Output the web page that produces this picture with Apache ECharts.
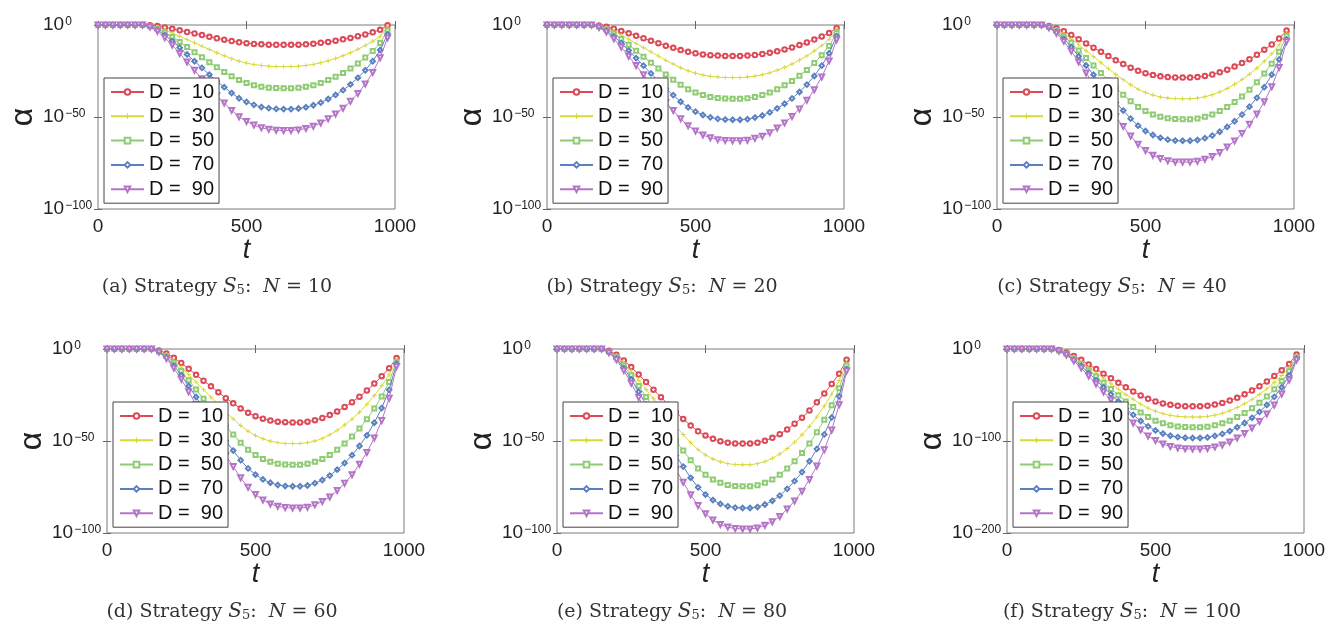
<!DOCTYPE html>
<html><head><meta charset="utf-8">
<script src="https://cdn.jsdelivr.net/npm/echarts@6/dist/echarts.min.js"></script>
<style>html,body{margin:0;padding:0;background:#fff}#c{width:1339px;height:622px}</style>
</head><body><div id="c"></div>
<script>
// x positions (t)
const tVals = [0,25,50,75,100,125,150,175,200,225,250,275,300,325,350,375,400,425,450,475,500,525,550,575,600,625,650,675,700,725,750,775,800,825,850,875,900,925,950,975];
const dLabels = ['D =  10','D =  30','D =  50','D =  70','D =  90'];
const panelLetters = ['a','b','c','d','e','f'];
const panelN = [10,20,40,60,80,100];
const xTicks = [0,500,1000];
// y tick exponents (axis shows log10 of alpha)
const yTicksSmall = [0,-50,-100];
const yTicksLarge = [0,-100,-200];

// log10(alpha) — panel (a) N = 10
const pa10 = [0,0,0,0,0,0,0,-0.2,-0.6,-1.3,-2.1,-2.9,-3.8,-4.6,-5.5,-6.4,-7.2,-8.0,-8.7,-9.4,-9.9,-10.3,-10.5,-10.7,-10.8,-10.8,-10.8,-10.7,-10.5,-10.2,-9.7,-9.2,-8.5,-7.8,-7.0,-6.1,-5.1,-4.0,-2.6,-0.2];
const pa30 = [0,0,0,0,0,0,0,-0.5,-1.4,-2.7,-4.3,-6.1,-7.9,-9.7,-11.5,-13.3,-15.1,-16.7,-18.3,-19.7,-20.7,-21.5,-22.0,-22.4,-22.6,-22.6,-22.6,-22.4,-22.0,-21.4,-20.5,-19.4,-18.2,-16.7,-15.1,-13.2,-11.1,-8.8,-6.2,-1.0];
const pa50 = [0,0,0,0,0,0,0,-0.7,-2.1,-4.1,-6.5,-9.3,-12.0,-14.8,-17.5,-20.3,-23.0,-25.5,-27.9,-29.9,-31.5,-32.7,-33.5,-34.1,-34.3,-34.4,-34.4,-34.1,-33.5,-32.7,-31.5,-29.9,-28.1,-26.1,-23.7,-20.9,-17.7,-14.1,-9.8,-3.0];
const pa70 = [0,0,0,0,0,0,0,-0.9,-2.7,-5.5,-8.7,-12.3,-16.0,-19.7,-23.3,-27.0,-30.6,-33.8,-37.0,-39.8,-41.8,-43.4,-44.6,-45.2,-45.6,-45.7,-45.7,-45.4,-44.7,-43.6,-42.2,-40.2,-38.0,-35.4,-32.3,-28.7,-24.6,-19.7,-13.6,-5.0];
const pa90 = [0,0,0,0,0,0,0,-1.1,-3.4,-6.9,-10.9,-15.5,-20.1,-24.6,-29.2,-33.8,-38.4,-42.4,-46.4,-49.9,-52.4,-54.4,-55.9,-56.7,-57.2,-57.3,-57.3,-57.0,-56.2,-55.0,-53.3,-51.0,-48.4,-45.3,-41.5,-37.2,-32.1,-25.8,-17.8,-7.0];
// panel (b) N = 20
const pb10 = [0,0,0,0,0,0,0,-0.3,-1.0,-2.0,-3.2,-4.5,-5.9,-7.2,-8.6,-9.9,-11.3,-12.4,-13.6,-14.6,-15.4,-16.0,-16.4,-16.6,-16.8,-16.8,-16.8,-16.6,-16.3,-15.8,-15.1,-14.3,-13.3,-12.2,-10.9,-9.5,-7.9,-6.2,-4.4,-1.6];
const pb30 = [0,0,0,0,0,0,0,-0.6,-1.7,-3.4,-5.4,-7.7,-10.0,-12.3,-14.6,-16.9,-19.2,-21.2,-23.2,-24.9,-26.2,-27.2,-27.9,-28.3,-28.5,-28.6,-28.6,-28.3,-27.8,-27.0,-26.0,-24.6,-23.0,-21.2,-19.1,-16.8,-14.1,-11.2,-7.8,-2.5];
const pb50 = [0,0,0,0,0,0,0,-0.8,-2.4,-4.8,-7.6,-10.8,-14.0,-17.2,-20.5,-23.7,-26.9,-29.7,-32.5,-34.9,-36.7,-38.1,-39.1,-39.7,-40.0,-40.1,-40.1,-39.8,-39.1,-38.1,-36.7,-34.9,-32.8,-30.4,-27.6,-24.4,-20.7,-16.4,-11.4,-4.3];
const pb70 = [0,0,0,0,0,0,0,-1.0,-3.1,-6.2,-9.8,-13.9,-18.0,-22.1,-26.3,-30.4,-34.5,-38.1,-41.7,-44.8,-47.1,-48.9,-50.2,-51.0,-51.4,-51.5,-51.5,-51.2,-50.3,-49.2,-47.5,-45.3,-42.8,-39.9,-36.4,-32.4,-27.7,-22.1,-15.3,-6.0];
const pb90 = [0,0,0,0,0,0,0,-1.3,-3.8,-7.5,-12.0,-17.0,-22.0,-27.0,-32.1,-37.1,-42.1,-46.5,-50.9,-54.7,-57.6,-59.8,-61.3,-62.3,-62.8,-62.9,-62.9,-62.6,-61.6,-60.4,-58.5,-56.0,-53.2,-49.7,-45.6,-40.9,-35.2,-28.3,-19.5,-8.0];
// panel (c) N = 40
const pc10 = [0,0,0,0,0,0,0,-0.6,-1.7,-3.4,-5.4,-7.7,-10.0,-12.3,-14.6,-16.9,-19.2,-21.2,-23.2,-24.9,-26.2,-27.2,-27.9,-28.3,-28.5,-28.6,-28.6,-28.3,-27.7,-26.9,-25.7,-24.3,-22.6,-20.7,-18.6,-16.2,-13.4,-10.6,-7.4,-3.0];
const pc30 = [0,0,0,0,0,0,0,-0.8,-2.4,-4.8,-7.6,-10.8,-14.0,-17.2,-20.5,-23.7,-26.9,-29.7,-32.5,-34.9,-36.7,-38.1,-39.1,-39.7,-40.0,-40.1,-40.1,-39.7,-39.0,-37.9,-36.4,-34.5,-32.2,-29.7,-26.8,-23.5,-19.7,-15.6,-10.9,-4.5];
const pc50 = [0,0,0,0,0,0,0,-1.0,-3.1,-6.1,-9.7,-13.8,-17.9,-22.0,-26.1,-30.2,-34.3,-37.9,-41.5,-44.5,-46.8,-48.6,-49.9,-50.7,-51.1,-51.2,-51.2,-50.8,-49.9,-48.6,-46.8,-44.5,-41.9,-38.8,-35.2,-31.1,-26.4,-21.0,-14.6,-6.0];
const pc70 = [0,0,0,0,0,0,0,-1.3,-3.8,-7.5,-12.0,-17.0,-22.0,-27.0,-32.1,-37.1,-42.1,-46.5,-50.9,-54.7,-57.6,-59.8,-61.3,-62.3,-62.8,-62.9,-62.9,-62.5,-61.5,-60.1,-58.0,-55.4,-52.3,-48.7,-44.4,-39.6,-33.8,-27.0,-18.7,-7.8];
const pc90 = [0,0,0,0,0,0,0,-1.5,-4.5,-8.9,-14.2,-20.1,-26.1,-32.0,-38.0,-44.0,-49.9,-55.1,-60.3,-64.8,-68.2,-70.8,-72.6,-73.8,-74.4,-74.5,-74.5,-74.1,-73.0,-71.5,-69.3,-66.3,-63.0,-58.9,-54.0,-48.4,-41.7,-33.5,-23.1,-9.0];
// panel (d) N = 60
const pd10 = [0,0,0,0,0,0,0,-0.8,-2.4,-4.8,-7.6,-10.8,-14.0,-17.2,-20.3,-23.5,-26.7,-29.5,-32.3,-34.7,-36.5,-37.9,-38.9,-39.5,-39.8,-39.9,-39.9,-39.5,-38.7,-37.5,-35.9,-33.9,-31.5,-28.9,-25.9,-22.5,-18.8,-14.8,-10.4,-4.9];
const pd30 = [0,0,0,0,0,0,0,-1.0,-3.1,-6.2,-9.8,-13.9,-18.0,-22.1,-26.2,-30.3,-34.4,-38.0,-41.6,-44.7,-47.0,-48.8,-50.1,-50.9,-51.3,-51.4,-51.4,-50.9,-50.0,-48.6,-46.6,-44.2,-41.3,-38.1,-34.4,-30.1,-25.3,-20.0,-14.0,-6.0];
const pd50 = [0,0,0,0,0,0,0,-1.3,-3.8,-7.5,-12.0,-17.0,-22.0,-27.0,-32.1,-37.1,-42.1,-46.5,-50.9,-54.7,-57.6,-59.8,-61.3,-62.3,-62.8,-62.9,-62.9,-62.4,-61.3,-59.8,-57.6,-54.7,-51.4,-47.6,-43.2,-38.2,-32.4,-25.8,-17.9,-7.0];
const pd70 = [0,0,0,0,0,0,0,-1.5,-4.5,-9.0,-14.2,-20.1,-26.1,-32.1,-38.0,-44.0,-50.0,-55.2,-60.4,-64.9,-68.3,-70.9,-72.7,-73.9,-74.5,-74.6,-74.6,-74.2,-72.9,-71.2,-68.8,-65.6,-62.0,-57.7,-52.7,-46.9,-40.1,-32.1,-22.2,-8.0];
const pd90 = [0,0,0,0,0,0,0,-1.7,-5.2,-10.4,-16.4,-23.3,-30.2,-37.2,-44.1,-51.0,-57.9,-63.9,-70.0,-75.2,-79.1,-82.1,-84.2,-85.5,-86.2,-86.4,-86.4,-86.0,-84.7,-82.9,-80.4,-76.9,-73.0,-68.3,-62.6,-56.2,-48.4,-38.9,-26.8,-9.5];
// panel (e) N = 80
const pe10 = [0,0,0,0,0,0,0,-1.0,-3.1,-6.2,-9.8,-13.9,-18.0,-22.1,-26.2,-30.3,-34.4,-38.0,-41.6,-44.7,-47.0,-48.8,-50.1,-50.9,-51.3,-51.4,-51.4,-50.9,-49.9,-48.3,-46.3,-43.7,-40.6,-37.3,-33.4,-29.0,-24.2,-19.0,-13.4,-5.8];
const pe30 = [0,0,0,0,0,0,0,-1.3,-3.8,-7.5,-12.0,-17.0,-22.0,-27.0,-32.1,-37.1,-42.1,-46.5,-50.9,-54.7,-57.6,-59.8,-61.3,-62.3,-62.8,-62.9,-62.9,-62.3,-61.2,-59.4,-57.1,-54.1,-50.6,-46.6,-42.1,-36.9,-31.0,-24.5,-17.1,-7.6];
const pe50 = [0,0,0,0,0,0,0,-1.5,-4.5,-9.0,-14.2,-20.1,-26.1,-32.1,-38.0,-44.0,-50.0,-55.2,-60.4,-64.9,-68.3,-70.9,-72.7,-73.9,-74.5,-74.6,-74.6,-74.0,-72.7,-70.9,-68.3,-64.9,-61.0,-56.5,-51.3,-45.3,-38.4,-30.6,-21.3,-9.0];
const pe70 = [0,0,0,0,0,0,0,-1.7,-5.2,-10.4,-16.4,-23.3,-30.2,-37.2,-44.1,-51.0,-57.9,-63.9,-70.0,-75.2,-79.1,-82.1,-84.2,-85.5,-86.2,-86.4,-86.4,-85.9,-84.5,-82.5,-79.7,-76.0,-71.8,-66.9,-61.0,-54.3,-46.4,-37.2,-25.7,-10.9];
const pe90 = [0,0,0,0,0,0,0,-2.0,-5.9,-11.7,-18.6,-26.4,-34.2,-42.1,-49.9,-57.7,-65.5,-72.4,-79.2,-85.1,-89.5,-92.9,-95.4,-96.8,-97.6,-97.8,-97.8,-97.3,-95.8,-93.9,-91.0,-87.0,-82.6,-77.3,-70.9,-63.6,-54.8,-44.0,-30.3,-12.0];
// panel (f) N = 100
const pf10 = [0,0,0,0,0,0,0,-1.2,-3.7,-7.5,-11.8,-16.8,-21.8,-26.8,-31.8,-36.8,-41.7,-46.1,-50.5,-54.2,-57.0,-59.2,-60.7,-61.7,-62.2,-62.3,-62.3,-61.7,-60.4,-58.6,-56.1,-53.0,-49.2,-45.2,-40.5,-35.2,-29.3,-23.1,-16.2,-6.0];
const pf30 = [0,0,0,0,0,0,0,-1.5,-4.4,-8.9,-14.0,-20.0,-25.9,-31.8,-37.7,-43.6,-49.5,-54.7,-59.9,-64.3,-67.6,-70.2,-72.1,-73.2,-73.8,-73.9,-73.9,-73.2,-71.9,-69.8,-67.1,-63.6,-59.4,-54.8,-49.4,-43.3,-36.4,-28.8,-20.1,-7.5];
const pf50 = [0,0,0,0,0,0,0,-1.7,-5.1,-10.2,-16.2,-23.0,-29.8,-36.6,-43.4,-50.2,-57.0,-63.0,-68.9,-74.0,-77.9,-80.8,-83.0,-84.2,-84.9,-85.1,-85.1,-84.5,-83.0,-80.8,-77.9,-74.0,-69.6,-64.5,-58.5,-51.7,-43.8,-34.9,-24.3,-9.0];
const pf70 = [0,0,0,0,0,0,0,-1.9,-5.8,-11.6,-18.4,-26.1,-33.8,-41.6,-49.3,-57.1,-64.8,-71.6,-78.3,-84.1,-88.5,-91.9,-94.3,-95.7,-96.5,-96.7,-96.7,-96.1,-94.5,-92.3,-89.2,-85.1,-80.4,-74.8,-68.3,-60.8,-52.0,-41.6,-28.8,-10.5];
const pf90 = [0,0,0,0,0,0,0,-2.2,-6.5,-13.0,-20.7,-29.3,-38.0,-46.7,-55.4,-64.1,-72.8,-80.4,-88.0,-94.6,-99.5,-103.3,-106.0,-107.6,-108.5,-108.7,-108.7,-108.2,-106.5,-104.4,-101.1,-96.7,-91.9,-85.9,-78.8,-70.7,-60.9,-48.9,-33.7,-12.0];

const panelData = [
  [pa10,pa30,pa50,pa70,pa90],
  [pb10,pb30,pb50,pb70,pb90],
  [pc10,pc30,pc50,pc70,pc90],
  [pd10,pd30,pd50,pd70,pd90],
  [pe10,pe30,pe50,pe70,pe90],
  [pf10,pf30,pf50,pf70,pf90]
];
const panelYTicks = [yTicksSmall,yTicksSmall,yTicksSmall,yTicksSmall,yTicksSmall,yTicksLarge];

// ---------- styling / layout ----------
const colors = ['#dc4a58','#d8d83a','#90cc74','#5a80c0','#b474c8'];
const plusPath = 'path://M4,0 L6,0 L6,4 L10,4 L10,6 L6,6 L6,10 L4,10 L4,6 L0,6 L0,4 L4,4 Z';
const symbols = ['emptyCircle', plusPath, 'emptyRect', 'emptyDiamond', 'emptyTriangle'];
const symSizes = [4.5, 4.5, 4, 4.5, 5];
const symRot = [0, 0, 0, 0, 180];
const gridPos = [[98,25],[547,25],[997,25],[107,349],[557,349],[1007,349]];
const capPos = [[217,287],[662,287],[1112,287],[222,612],[672,612],[1122,612]];
const GW = 297, GH = 184;
const SANS = '"Liberation Sans", Arial, sans-serif';

const grids = [], xAxes = [], yAxes = [], series = [], legends = [], graphics = [];
panelData.forEach((arrs, p) => {
  const [gl, gt] = gridPos[p];
  grids.push({left: gl, top: gt, width: GW, height: GH, show: true, borderColor: '#7a7a7a', borderWidth: 1, backgroundColor: 'transparent'});
  const tickStyle = {show: true, inside: true, length: 4, lineStyle: {color: '#666', width: 1}};
  xAxes.push({
    type: 'value', gridIndex: p, min: xTicks[0], max: xTicks[xTicks.length-1], interval: xTicks[1]-xTicks[0],
    axisLine: {show: false}, axisTick: tickStyle, splitLine: {show: false},
    axisLabel: {fontSize: 19, fontFamily: SANS, color: '#222', margin: 8, formatter: v => String(v)},
    name: 't', nameLocation: 'middle', nameGap: 22,
    nameTextStyle: {fontSize: 27, fontStyle: 'italic', fontFamily: SANS, color: '#222'}
  });
  xAxes.push({
    type: 'value', gridIndex: p, position: 'top', min: xTicks[0], max: xTicks[xTicks.length-1], interval: xTicks[1]-xTicks[0],
    axisLine: {show: false}, axisTick: tickStyle, splitLine: {show: false}, axisLabel: {show: false}
  });
  const yt = panelYTicks[p];
  yAxes.push({
    type: 'value', gridIndex: p, min: yt[yt.length-1], max: yt[0], interval: yt[0]-yt[1],
    axisLine: {show: false}, axisTick: tickStyle, splitLine: {show: false},
    axisLabel: {
      align: 'left', margin: 55,
      formatter: v => '{b|10}{s|' + (v === 0 ? '0' : '\u2212' + Math.abs(v)) + '}',
      rich: {
        b: {fontSize: 19, fontFamily: SANS, color: '#222', lineHeight: 19, verticalAlign: 'bottom'},
        s: {fontSize: 12, fontFamily: SANS, color: '#222', verticalAlign: 'top', lineHeight: 12, padding: [0, 0, 12, 1]}
      }
    },
    name: '\u03b1', nameLocation: 'middle', nameGap: 47,
    nameTextStyle: {fontSize: 32, fontFamily: SANS, color: '#222'}
  });
  yAxes.push({
    type: 'value', gridIndex: p, position: 'right', min: yt[yt.length-1], max: yt[0], interval: yt[0]-yt[1],
    axisLine: {show: false}, axisTick: tickStyle, splitLine: {show: false}, axisLabel: {show: false}
  });
  arrs.forEach((arr, k) => {
    series.push({
      type: 'line', name: dLabels[k], xAxisIndex: 2*p, yAxisIndex: 2*p,
      data: tVals.map((x, i) => [x, arr[i]]),
      symbol: symbols[k], symbolSize: symSizes[k], symbolRotate: symRot[k], showSymbol: true,
      lineStyle: {width: 1, color: colors[k]},
      itemStyle: {color: colors[k], borderWidth: 1},
      emphasis: {disabled: true}, z: 2 + k*0.01
    });
  });
  legends.push({
    data: dLabels, orient: 'vertical', left: gl + 6, top: gt + 53,
    itemWidth: 33, itemHeight: 7, itemGap: 4.3,
    textStyle: {fontSize: 20, fontFamily: SANS, color: '#111', lineHeight: 20},
    borderColor: '#444', borderWidth: 1, backgroundColor: '#fff',
    padding: [4, 5, 4, 6], selectedMode: false
  });
  const [cx, cy] = capPos[p];
  graphics.push({
    type: 'text', x: cx, y: cy,
    style: {
      text: '{r|(' + panelLetters[p] + ') Strategy }{c|S}{sub|5}{r|:  }{i|N}{r| = ' + panelN[p] + '}',
      align: 'center', verticalAlign: 'middle',
      rich: {
        r: {fontSize: 19, fontFamily: '"DejaVu Serif", serif', fill: '#333', color: '#333'},
        c: {fontSize: 20, fontFamily: '"DejaVu Serif", serif', fontStyle: 'italic', fill: '#333', color: '#333'},
        sub: {fontSize: 13, fontFamily: '"DejaVu Serif", serif', fill: '#333', color: '#333', verticalAlign: 'bottom', padding: [6, 0, 0, 0]},
        i: {fontSize: 19, fontFamily: '"DejaVu Serif", serif', fontStyle: 'italic', fill: '#333', color: '#333'}
      }
    }
  });
});

const chart = echarts.init(document.getElementById('c'), null, {renderer: 'canvas'});
chart.setOption({
  animation: false,
  backgroundColor: '#fff',
  grid: grids, xAxis: xAxes, yAxis: yAxes, series: series, legend: legends, graphic: graphics
});
</script></body></html>
